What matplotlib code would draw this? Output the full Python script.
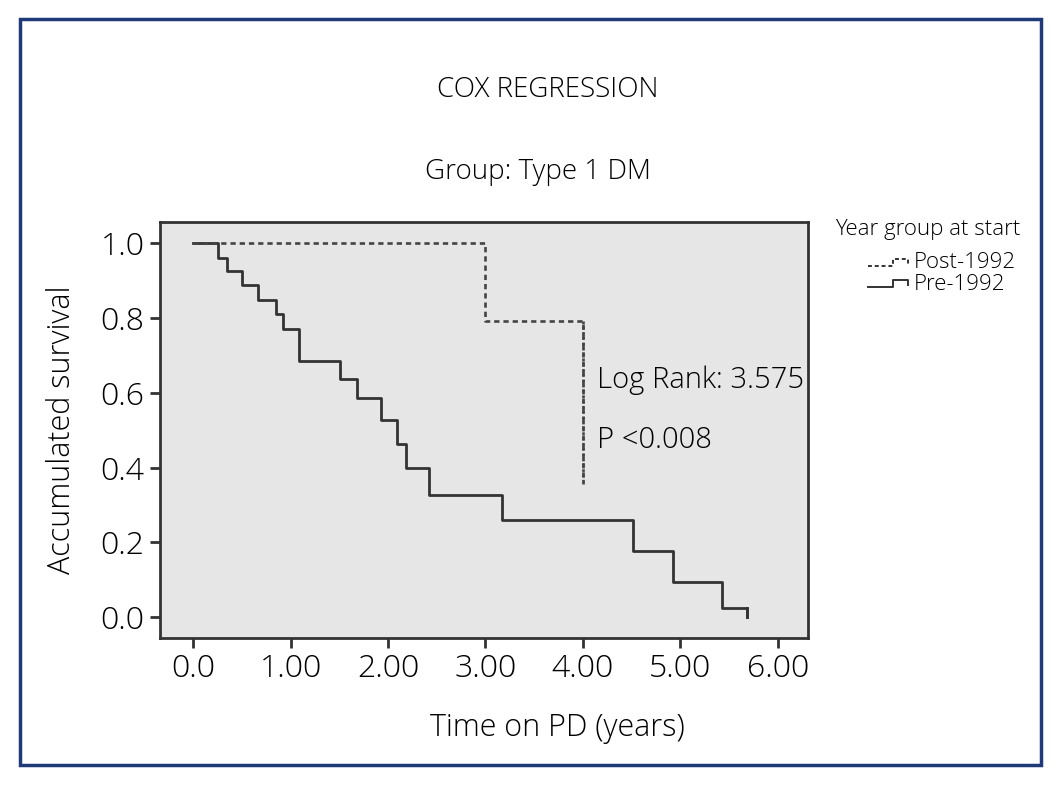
import matplotlib
matplotlib.use('Agg')
import matplotlib.pyplot as plt
from matplotlib.lines import Line2D
from matplotlib.patches import Rectangle

plt.rcParams['font.family'] = ['Open Sans', 'DejaVu Sans']
plt.rcParams['font.weight'] = 'light'
plt.rcParams['axes.labelweight'] = 'light'

# Kaplan-Meier style step data
pre_t = [0.0, 0.26, 0.345, 0.506, 0.67, 0.848, 0.926, 1.087, 1.508, 1.678, 1.925, 2.09, 2.18, 2.42, 3.17, 4.51, 4.92, 5.43, 5.68]
pre_s = [1.0, 0.961, 0.925, 0.888, 0.849, 0.81, 0.772, 0.686, 0.638, 0.585, 0.527, 0.464, 0.399, 0.326, 0.259, 0.177, 0.094, 0.023, 0.0]
post_t = [0.0, 3.0, 4.0]
post_s = [1.0, 0.791, 0.356]

xticks = [0, 1, 2, 3, 4, 5, 6]
xlabels = ['0.0', '1.00', '2.00', '3.00', '4.00', '5.00', '6.00']
yticks = [0.0, 0.2, 0.4, 0.6, 0.8, 1.0]
ylabels = ['0.0', '0.2', '0.4', '0.6', '0.8', '1.0']

fig = plt.figure(figsize=(10.64, 7.91), dpi=100)
fig.patch.set_facecolor('white')

# blue frame around the whole figure
fig.patches.append(Rectangle((20 / 1064, 1 - 765 / 791), 1021 / 1064, 746 / 791,
                             transform=fig.transFigure, fill=False,
                             edgecolor='#1f3a78', linewidth=2.5))

ax = fig.add_axes([160 / 1064, 1 - 638 / 791, 648 / 1064, 416 / 791])
ax.set_facecolor('#e6e6e6')

# pre-1992: solid step, last drop
ax.step(pre_t, pre_s, where='post', color='#333333', lw=2)
ax.plot([pre_t[-1], pre_t[-1]], [pre_s[-2], pre_s[-1]], color='#333333', lw=2)
# post-1992: dashed step, ends with a drop at t=4
ax.step(post_t, post_s, where='post', color='#444444', lw=1.9, ls=(0, (2, 1.5)))
ax.plot([post_t[-1], post_t[-1]], [post_s[-2], post_s[-1]], color='#444444', lw=1.9, ls=(0, (1, 1)))

ax.set_xlim(-0.34, 6.31)
ax.set_ylim(-0.056, 1.057)
ax.set_xticks(xticks)
ax.set_xticklabels(xlabels)
ax.set_yticks(yticks)
ax.set_yticklabels(ylabels)
ax.tick_params(direction='out', length=7, width=2, color='#333333', labelsize=23, pad=4)
for s in ax.spines.values():
    s.set_color('#333333')
    s.set_linewidth(2)

ax.set_xlabel('Time on PD (years)', fontsize=22, va='center')
ax.xaxis.set_label_coords(0.613, -0.216)
ax.set_ylabel('Accumulated survival', fontsize=22, labelpad=16)

ax.text(4.14, 0.634, 'Log Rank: 3.575', fontsize=21, va='center', ha='left')
ax.text(4.14, 0.473, 'P <0.008', fontsize=21, va='center', ha='left')

fig.text(548 / 1064, 1 - 90 / 791, 'COX REGRESSION', fontsize=20, ha='center', va='center')
fig.text(538 / 1064, 1 - 172 / 791, 'Group: Type 1 DM', fontsize=20, ha='center', va='center')

# legend, drawn by hand
fig.text(835 / 1064, 1 - 230 / 791, 'Year group at start', fontsize=16, ha='left', va='center')
fig.text(914 / 1064, 1 - 263 / 791, 'Post-1992', fontsize=16, ha='left', va='center')
fig.text(914 / 1064, 1 - 284 / 791, 'Pre-1992', fontsize=16, ha='left', va='center')


def icon(y, ls):
    xs = [868, 893, 893, 908, 908]
    ys = [y + 3, y + 3, y - 4, y - 4, y + 1]
    fig.lines.append(Line2D([x / 1064 for x in xs], [1 - v / 791 for v in ys],
                            transform=fig.transFigure, color='#333333', lw=1.4, ls=ls))


icon(263, (0, (2, 1.5)))
icon(284, '-')

fig.savefig('out.png', dpi=100)
